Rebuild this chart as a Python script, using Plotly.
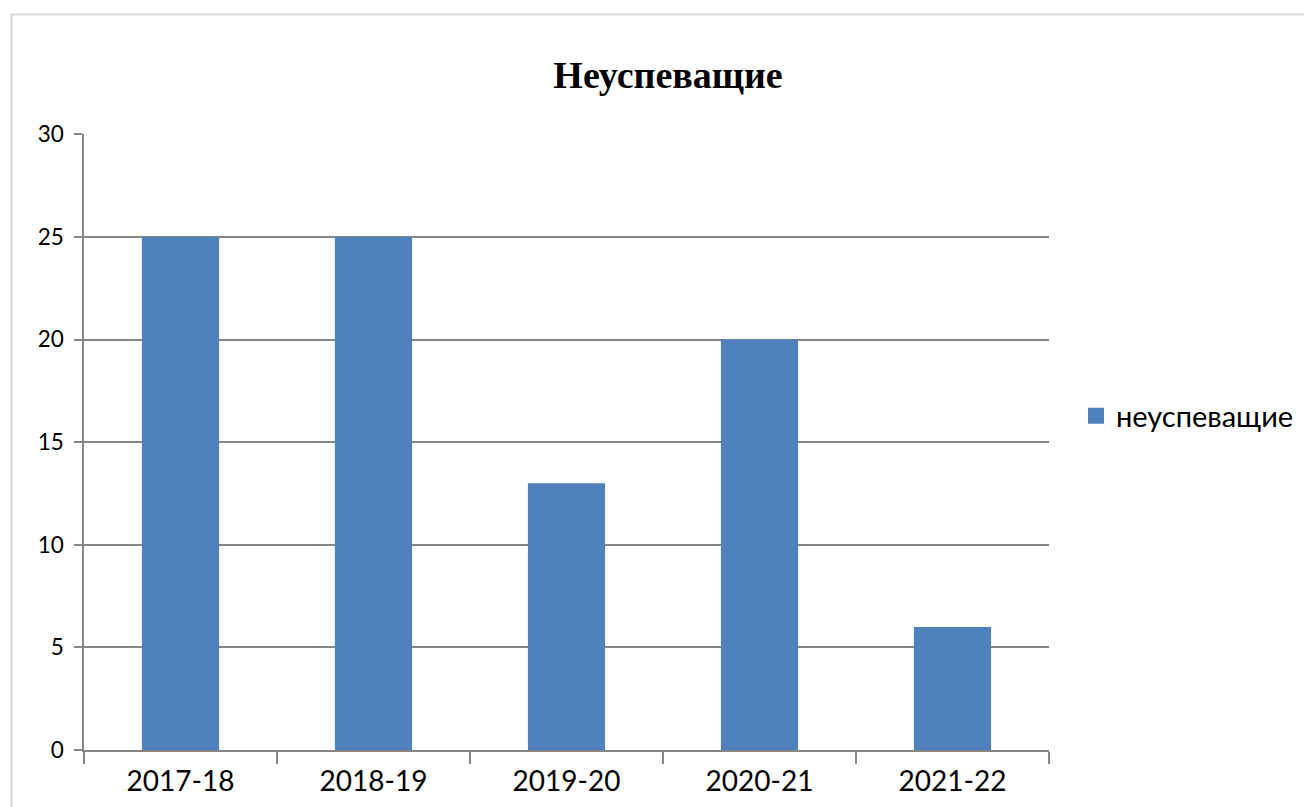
import plotly.graph_objects as go

categories = ["2017-18", "2018-19", "2019-20", "2020-21", "2021-22"]
values = [25, 25, 13, 20, 6]
series_name = "неуспеващие"
title_text = "Неуспеващие"
y_ticks = [0, 5, 10, 15, 20, 25, 30]

W, H = 1312, 807
OFF = 8  # page body margin
L, R, T, B = 84, 1049, 134, 750

fig = go.Figure()
fig.add_trace(go.Bar(
    x=categories, y=values, name=series_name,
    marker=dict(color="#4f81bd", line=dict(width=0)),
    showlegend=False,
))
# legend entry with a larger square swatch
fig.add_trace(go.Scatter(
    x=[None], y=[None], mode="markers", name=series_name,
    marker=dict(symbol="square", size=16, color="#4f81bd"),
    showlegend=True,
))

def px_x(p):
    return (p - L) / (R - L)

def px_y(p):
    return (B - p) / (B - T)

fig.update_layout(
    width=W, height=H,
    margin=dict(l=L - OFF, r=W + OFF - R, t=T - OFF, b=H + OFF - B, autoexpand=False),
    paper_bgcolor="white", plot_bgcolor="white",
    bargap=0.6,
    title=dict(text="<b>" + title_text + "</b>", x=(668 - OFF) / W, xanchor="center",
               y=1 - (75 - OFF) / H, yanchor="middle",
               font=dict(family="Liberation Serif, Times New Roman, serif", size=38, color="black")),
    font=dict(family="Lato, sans-serif", color="black"),
    legend=dict(x=px_x(1076), y=px_y(416), xanchor="left", yanchor="middle",
                font=dict(size=29, family="Lato, sans-serif", color="black"),
                itemwidth=30, bgcolor="rgba(0,0,0,0)"),
    shapes=[dict(type="rect", xref="paper", yref="paper",
                 x0=px_x(11.5), x1=px_x(1330), y0=px_y(830), y1=px_y(14.5),
                 line=dict(color="#d9d9d9", width=2), layer="below")],
)

fig.update_xaxes(
    type="category", showgrid=False, showline=True, linecolor="#868686", linewidth=1.5,
    ticks="outside", tickson="boundaries", ticklen=12, tickcolor="#868686", tickwidth=1.5,
    tickfont=dict(size=28, family="Lato, sans-serif", color="black"),
    ticklabelstandoff=6,
    fixedrange=True,
)
fig.update_yaxes(
    range=[0, 30.02], tickvals=y_ticks, showgrid=True, gridcolor="#868686", gridwidth=1.5,
    showline=True, linecolor="#868686", linewidth=1.5, zeroline=False,
    ticks="outside", ticklen=8, tickcolor="#868686", tickwidth=1.5,
    tickfont=dict(size=22.5, family="Lato, sans-serif", color="black"),
    ticklabelstandoff=6,
    fixedrange=True,
)

fig.write_html("out.html")
